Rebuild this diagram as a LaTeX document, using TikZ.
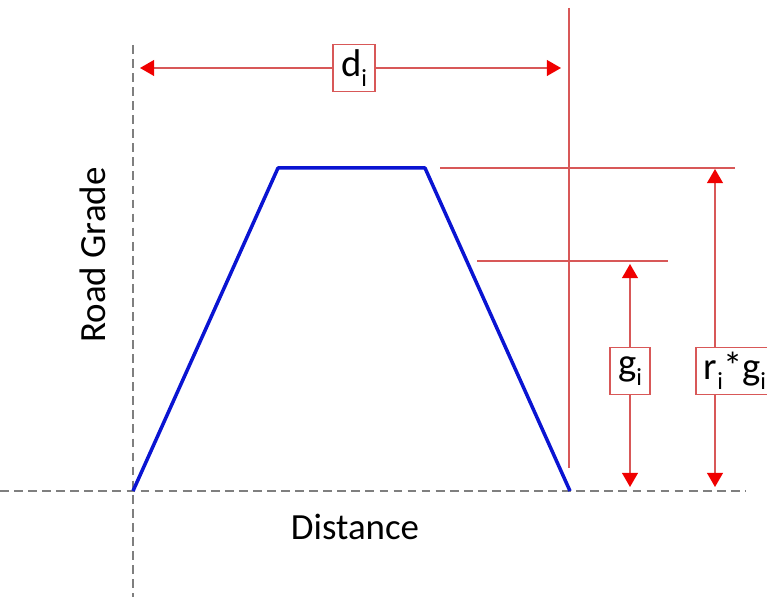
\documentclass[tikz,border=0pt]{standalone}
\usepackage{fontspec}
\setmainfont{Carlito}
\usetikzlibrary{arrows.meta}
\definecolor{axisgray}{HTML}{7F7F7F}
\definecolor{gradeblue}{HTML}{0A14D2}
\definecolor{dimred}{HTML}{D85858}
\definecolor{tipred}{HTML}{F00000}
\newcommand{\subi}{\raisebox{-.55ex}{\fontsize{14}{14}\selectfont i}}
\tikzset{axisline/.style={draw=axisgray,line width=1.1pt,dash pattern=on 5pt off 3pt},gradeline/.style={draw=gradeblue,line width=2pt,line join=round},refline/.style={draw=dimred,line width=.8pt},dimtip/.style={refline,-{Triangle[width=9pt,length=8pt,color=tipred]}},dimlabel/.style={draw=dimred,line width=.8pt,fill=white,font=\fontsize{22}{24}\selectfont,minimum height=.95cm,inner xsep=4.5pt,inner ysep=0pt},axislabel/.style={font=\fontsize{21}{24}\selectfont}}

\begin{document}
\begin{tikzpicture}[x=0.02cm,y=0.02cm]
\useasboundingbox (0,0) rectangle (767,597);
% axes
\coordinate (vtop) at (133,552);
\coordinate (vbot) at (133,0);
\coordinate (hleft) at (0,106);
\coordinate (hright) at (745,106);
\draw[axisline] (vtop)--(vbot);
\draw[axisline] (hleft)--(hright);
% road grade profile
\coordinate (p0) at (133,106);
\coordinate (p1) at (278,429);
\coordinate (p2) at (425,429);
\coordinate (p3) at (570,106);
\draw[gradeline] (p0)--(p1)--(p2)--(p3);
% reference lines
\coordinate (rvtop) at (569,589);
\coordinate (rvbot) at (569,129);
\coordinate (rtl) at (440,429);
\coordinate (rtr) at (735,429);
\coordinate (rml) at (477,336);
\coordinate (rmr) at (668,336);
\draw[refline] (rvtop)--(rvbot);
\draw[refline] (rtl)--(rtr);
\draw[refline] (rml)--(rmr);
% dimension labels
\node[dimlabel] (dlab) at (354,529) {d\subi};
\node[dimlabel] (glab) at (630,226) {g\subi};
\node[dimlabel] (rglab) at (735,226) {r\subi*g\subi};
\coordinate (dL) at (140,529);
\coordinate (dR) at (561,529);
\coordinate (gT) at (630,333);
\coordinate (gB) at (630,110);
\coordinate (rgT) at (715,428);
\coordinate (rgB) at (715,110);
\foreach \u/\v in {dlab/dL,dlab/dR,glab/gT,glab/gB}{\draw[dimtip] (\u)--(\v);}
\draw[dimtip] (rglab.north -| rgT)--(rgT);
\draw[dimtip] (rglab.south -| rgB)--(rgB);
% axis titles
\node[axislabel,rotate=90] (ytitle) at (93,342) {Road Grade};
\node[axislabel] (xtitle) at (355,70) {Distance};
\end{tikzpicture}
\end{document}
